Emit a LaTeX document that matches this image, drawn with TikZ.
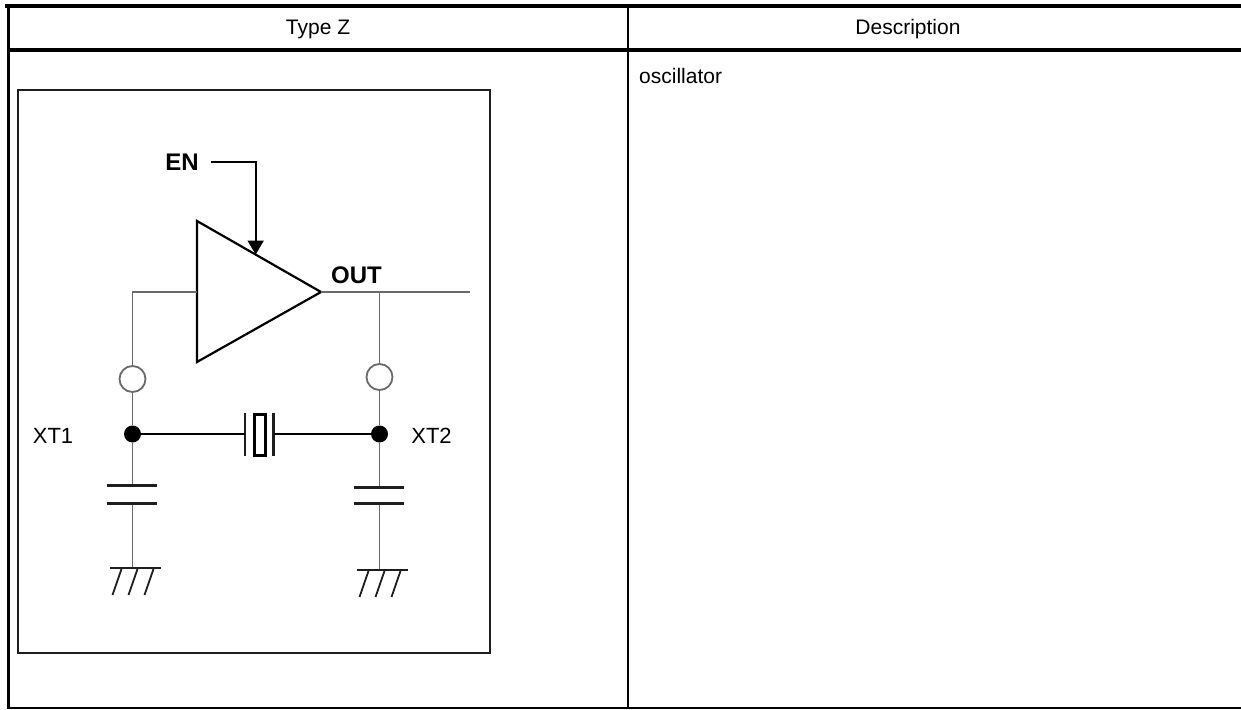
\documentclass[tikz,border=0pt]{standalone}
\usepackage{fontspec}
\setmainfont{Liberation Sans}
\usetikzlibrary{arrows.meta,calc,positioning}

\definecolor{wiregray}{RGB}{105,105,105}
\definecolor{inkdark}{RGB}{30,30,30}

\begin{document}
\begin{tikzpicture}[x=1pt, y=-1pt,
    rule/.style   = {line width=#1, black},
    txt/.style    = {inner sep=0pt, anchor=base, font=\fontsize{21}{25}\selectfont},
    pinlbl/.style = {inner sep=0pt, anchor=base, font=\fontsize{24}{28}\selectfont\bfseries},
    xtlbl/.style  = {inner sep=0pt, anchor=base, font=\fontsize{22}{26}\selectfont},
    wire/.style   = {line width=1.8pt, wiregray},
    blk/.style    = {line width=1.8pt, black},
    term/.style   = {circle, draw=wiregray, line width=1.8pt, fill=white,
                     minimum size=26pt, inner sep=0pt},
    junc/.style   = {circle, fill=black, minimum size=17pt, inner sep=0pt},
    plate/.style  = {line width=3pt, inkdark}
   ]
    \useasboundingbox (0,0) rectangle (1241,709);

    % Table -----------------------------------------------------
    \draw[rule=3.5pt] (5,6) -- (1241,6);
    \draw[rule=3.5pt] (8.3,4.5) -- (8.3,709);
    \draw[rule=4pt]   (8.3,49.7) -- (1241,49.7);
    \draw[rule=2pt]   (628.3,6) -- (628.3,707.5);
    \draw[rule=2pt]   (8.3,707.5) -- (1241,707.5);

    \node[txt] (typez) at (318,34.5) {Type Z};
    \node[txt] (descr) at (908,34.5) {Description};
    \node[txt, anchor=base west] (osc) at (639,83) {oscillator};

    % Figure frame ----------------------------------------------
    \draw[line width=2pt, inkdark] (18,90) rectangle (490,653);

    % Amplifier -------------------------------------------------
    \coordinate (amptop) at (197,221);
    \coordinate (ampbot) at (197,362);
    \coordinate (ampout) at (321,292);
    \coordinate (ampin)  at (197,292);
    \draw[line width=2.2pt, line join=miter] (amptop) -- (ampout) -- (ampbot) -- cycle;

    \node[pinlbl] (en)  at (182,170)   {EN};
    \node[pinlbl] (out) at (356.5,283) {OUT};
    \coordinate (enhit) at ($(amptop)!0.473!(ampout)$);
    \draw[blk, -{Triangle[width=16pt,length=14pt]}] ([xshift=12pt]en.east) -| (enhit);

    % Output and feedback ---------------------------------------
    \coordinate (outend) at (470,292);
    \coordinate (outtap) at (379.5,292);
    \coordinate (fbk)    at (132.5,292);
    \draw[wire] (ampout) -- (outend);
    \node[term] (t1) at (132.5,379) {};
    \node[term] (t2) at (379.5,377) {};
    \draw[wire] (ampin) -- (fbk) -- (t1);
    \draw[wire] (outtap) -- (t2);

    \node[junc]  (xt1)    at (132.5,434) {};
    \node[junc]  (xt2)    at (379.5,434) {};
    \node[xtlbl] (xt1lbl) at (53,443)    {XT1};
    \node[xtlbl] (xt2lbl) at (431.5,443) {XT2};
    \draw[wire] (t1) -- (xt1);
    \draw[wire] (t2) -- (xt2);

    % Crystal ---------------------------------------------------
    \coordinate (qL) at (245,434);
    \coordinate (qR) at (273.5,434);
    \node[draw, line width=3.2pt, minimum width=11pt, minimum height=41pt,
          inner sep=0pt] (qbody) at (259.8,434.8) {};
    \draw[plate, line width=2.8pt] ($(qL)+(0,-21.5)$) -- ($(qL)+(0,21.5)$);
    \draw[plate, line width=2.8pt] ($(qR)+(0,-21.5)$) -- ($(qR)+(0,21.5)$);
    \draw[blk] (xt1) -- (qL);
    \draw[blk] (qR) -- (xt2);

    % Load capacitors and ground --------------------------------
    \coordinate (c1top) at (132.5,485);
    \coordinate (c1bot) at (132.5,503);
    \coordinate (c2top) at (379.5,487);
    \coordinate (c2bot) at (379.5,503);
    \coordinate (g1)    at (132.5,568);
    \coordinate (g2)    at (379.5,570);
    \draw[wire] (xt1) -- (c1top);
    \draw[wire] (xt2) -- (c2top);
    \draw[wire] (c1bot) -- (g1);
    \draw[wire] (c2bot) -- (g2);
    \foreach \c in {c1top,c1bot,c2top,c2bot}
        \draw[plate] ($(\c)+(-26,0)$) -- ++(50.5,0);
    \foreach \g in {g1,g2}{
        \draw[plate, line width=2.8pt] ($(\g)+(-22.5,0)$) -- ++(51,0);
        \foreach \d in {-11,5,21}
            \draw[inkdark, line width=1.8pt] ($(\g)+(\d,1)$) -- ++(-9,26);
    }
\end{tikzpicture}
\end{document}
